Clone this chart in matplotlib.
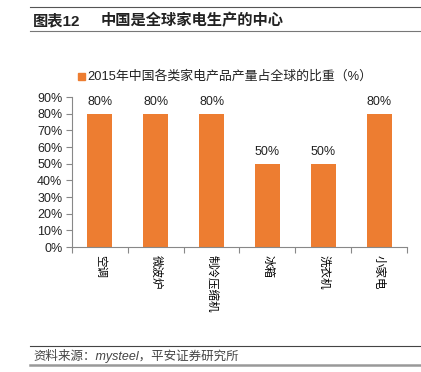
import matplotlib.pyplot as plt
from matplotlib.lines import Line2D
from matplotlib.patches import Rectangle

plt.rcParams['font.family'] = ['Liberation Sans', 'Noto Sans CJK SC', 'DejaVu Sans']

# 数据
categories = ['空调', '微波炉', '制冷压缩机', '冰箱', '洗衣机', '小家电']
values = [80, 80, 80, 50, 50, 80]
yticks = [0, 10, 20, 30, 40, 50, 60, 70, 80, 90]

W, H = 421, 372
fig = plt.figure(figsize=(W / 100, H / 100), dpi=100)

def fx(px):
    return px / W

def fy(py):
    return 1 - py / H

# 顶部标题和线
fig.add_artist(Line2D([fx(30), fx(420)], [fy(7), fy(7)], color='#555555', lw=0.8))
fig.text(fx(33), fy(21), '图表12', fontsize=11, fontweight='bold', va='center', color='#222222')
fig.text(fx(101), fy(21), '中国是全球家电生产的中心', fontsize=11, fontweight='bold', va='center', color='#222222')
fig.add_artist(Line2D([fx(30), fx(420)], [fy(31), fy(31)], color='#777777', lw=0.8))

# 图例
fig.add_artist(Rectangle((fx(78), fy(80)), 7 / W, 7 / H, color='#ED7D31', transform=fig.transFigure))
fig.text(fx(87), fy(76.5), '2015年中国各类家电产品产量占全球的比重（%）', fontsize=9.3, va='center', color='#222222')

# 主图
ax = fig.add_axes([fx(72), fy(247), fx(407) - fx(72), (247 - 97) / H])
x = range(len(categories))
ax.bar(x, values, width=0.45, color='#ED7D31')
for i, v in enumerate(values):
    ax.text(i, v + 3.5, f'{v}%', ha='center', va='bottom', fontsize=9, color='#222222')

ax.set_xlim(-0.5, len(categories) - 0.5)
ax.set_ylim(0, 90)
ax.set_yticks(yticks)
ax.set_yticklabels([f'{t}%' for t in yticks], fontsize=9, color='#222222')
ax.set_xticks([i - 0.5 for i in range(len(categories) + 1)])
ax.set_xticklabels([])
ax.set_xticks(list(x), minor=True)
ax.set_xticklabels(categories, minor=True, rotation=-90, fontsize=8.3, va='top', ha='center')
ax.tick_params(axis='x', which='minor', length=0, pad=6)
ax.tick_params(axis='x', which='major', length=4, color='#888888')
ax.tick_params(axis='y', length=4, color='#888888', pad=3)
for s in ['top', 'right']:
    ax.spines[s].set_visible(False)
ax.spines['left'].set_color('#888888')
ax.spines['bottom'].set_color('#888888')

# 底部来源
fig.add_artist(Line2D([fx(30), fx(420)], [fy(346), fy(346)], color='#444444', lw=0.8))
fig.text(fx(33), fy(356), '资料来源：mysteel，平安证券研究所', fontsize=9, style='italic', va='center', color='#444444')
fig.add_artist(Line2D([fx(30), fx(420)], [fy(365), fy(365)], color='#999999', lw=1.8))

fig.savefig('out.png', dpi=100)
